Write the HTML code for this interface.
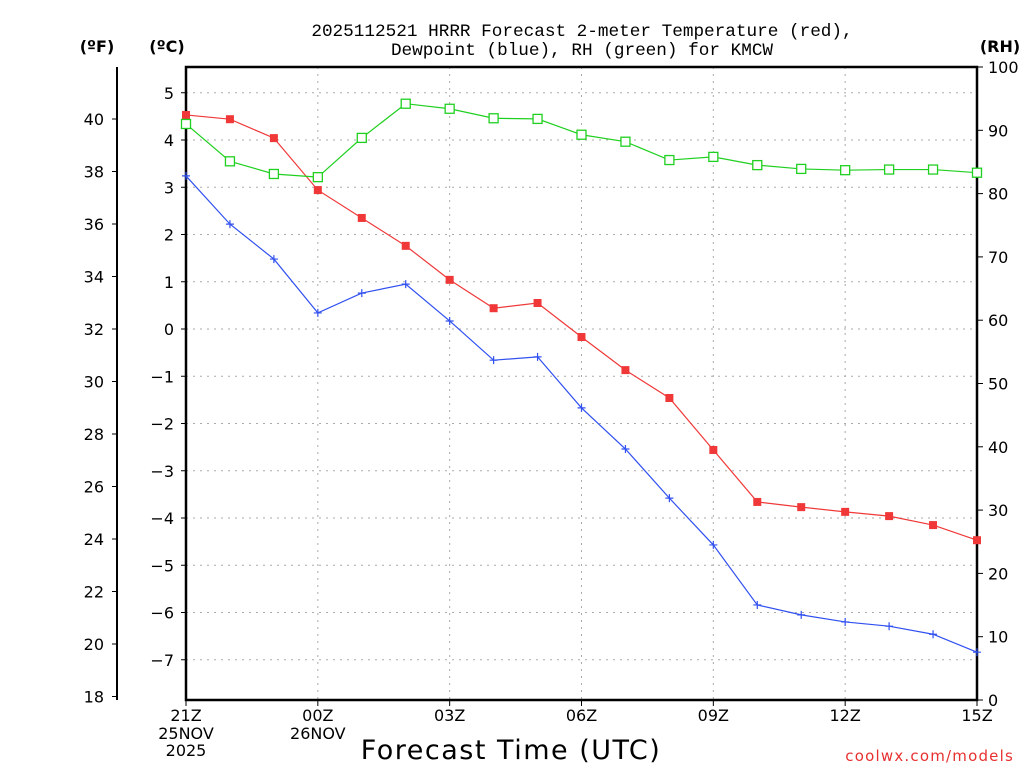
<!DOCTYPE html>
<html><head><meta charset="utf-8"><style>
body{margin:0;background:#fff;font-family:"DejaVu Sans","Liberation Sans",sans-serif;}
svg text{font-family:"DejaVu Sans","Liberation Sans",sans-serif;}
svg text.mono{font-family:"Liberation Mono","DejaVu Sans Mono",monospace;}
</style></head><body>
<svg id="chart" width="1024" height="768" xmlns="http://www.w3.org/2000/svg">
<rect width="1024" height="768" fill="#fff"/>
<g id="grid"></g>
<g id="axes"></g>
<g id="series"></g>
<text class="mono" x="582" y="36" text-anchor="middle" font-size="17.7" fill="#000">2025112521 HRRR Forecast 2-meter Temperature (red),</text>
<text class="mono" x="582" y="55" text-anchor="middle" font-size="17.7" fill="#000">Dewpoint (blue), RH (green) for KMCW</text>
<text x="97" y="52" text-anchor="middle" font-size="16" font-weight="bold">(ºF)</text>
<text x="167" y="52" text-anchor="middle" font-size="16" font-weight="bold">(ºC)</text>
<text x="1000" y="52" text-anchor="middle" font-size="16" font-weight="bold">(RH)</text>
<text x="511" y="759" text-anchor="middle" font-size="27" letter-spacing="1.5">Forecast Time (UTC)</text>
<text x="1014" y="761" text-anchor="end" font-size="15" fill="#e83030" letter-spacing="1.2">coolwx.com/models</text>
</svg>
<script>
const hours=[0,1,2,3,4,5,6,7,8,9,10,11,12,13,14,15,16,17,18];
const tempC=[4.53,4.44,4.04,2.94,2.35,1.76,1.04,0.44,0.55,-0.17,-0.87,-1.46,-2.56,-3.66,-3.77,-3.87,-3.96,-4.15,-4.47];
const dewC=[3.24,2.22,1.48,0.34,0.76,0.95,0.17,-0.66,-0.59,-1.67,-2.54,-3.58,-4.57,-5.84,-6.05,-6.20,-6.29,-6.46,-6.84];
const rh=[91.0,85.1,83.1,82.6,88.8,94.2,93.4,91.9,91.8,89.3,88.2,85.3,85.8,84.5,83.9,83.7,83.8,83.8,83.3];
const cTicks=[5,4,3,2,1,0,-1,-2,-3,-4,-5,-6,-7];
const fTicks=[40,38,36,34,32,30,28,26,24,22,20,18];
const rhTicks=[0,10,20,30,40,50,60,70,80,90,100];
const xTickHours=[0,3,6,9,12,15,18];
const xTickLabels=["21Z","00Z","03Z","06Z","09Z","12Z","15Z"];
const X0=186,X1=977,Y0=67,Y1=700;
const xS=h=>X0+h*(X1-X0)/18;
const yC=c=>329-c*47.25;
const yF=f=>yC((f-32)*5/9);
const yR=r=>Y1-r*(Y1-Y0)/100;
const NS="http://www.w3.org/2000/svg";
function mk(tag,attrs,parent){const e=document.createElementNS(NS,tag);for(const k in attrs)e.setAttribute(k,attrs[k]);parent.appendChild(e);return e;}
const grid=document.getElementById('grid'),axes=document.getElementById('axes'),ser=document.getElementById('series');
cTicks.forEach(c=>{const y=yC(c);
 const l=mk('line',{x1:X0,x2:X1,y1:y,y2:y,stroke:'#aaa','stroke-dasharray':'2,5'},grid);
 
 const t=mk('line',{x1:X0-5,x2:X0,y1:y,y2:y,stroke:'#000'},axes);
 
 const tx=mk('text',{x:X0-12,y:y+6,'text-anchor':'end','font-size':'16',fill:'#000'},axes);
 tx.textContent=(c<0?'\u2212'+(-c):c);
 });
xTickHours.forEach((h,i)=>{const x=xS(h);
 if(i>0&&i<xTickHours.length-1){const l=mk('line',{x1:x,x2:x,y1:Y0,y2:Y1,stroke:'#aaa','stroke-dasharray':'2,5'},grid);
 }
 const t=mk('line',{x1:x,x2:x,y1:Y1,y2:Y1+6,stroke:'#000'},axes);
 
 const tx=mk('text',{x:x,y:721,'text-anchor':'middle','font-size':'16'},axes);
 tx.textContent=xTickLabels[i];
 });
[[0,"25NOV",739],[0,"2025",756],[3,"26NOV",739]].forEach(d=>{
 const tx=mk('text',{x:xS(d[0]),y:d[2],'text-anchor':'middle','font-size':'16'},axes);tx.textContent=d[1];
 });
fTicks.forEach(f=>{const y=yF(f);
 const t=mk('line',{x1:112,x2:117,y1:y,y2:y,stroke:'#000'},axes);
 
 const tx=mk('text',{x:104,y:y+6,'text-anchor':'end','font-size':'16'},axes);tx.textContent=f;
 });
rhTicks.forEach(r=>{const y=yR(r);
 const t=mk('line',{x1:X1,x2:X1+6,y1:y,y2:y,stroke:'#000'},axes);
 
 const tx=mk('text',{x:988,y:y+6,'font-size':'16'},axes);tx.textContent=r;
 });
let a=mk('line',{x1:117,x2:117,y1:Y0,y2:Y1,stroke:'#000','stroke-width':2},axes);

a=mk('rect',{x:X0,y:Y0,width:X1-X0,height:Y1-Y0,fill:'none',stroke:'#000','stroke-width':2.5},axes);

function line(vals,yf,color,name){
 const p=mk('polyline',{points:vals.map((v,i)=>xS(hours[i])+','+yf(v)).join(' '),fill:'none',stroke:color,'stroke-width':1.2},ser);
 }
line(tempC,yC,'#f03838','temperature');line(dewC,yC,'#3050f0','dewpoint');line(rh,yR,'#20d020','rh');
tempC.forEach((v,i)=>{const m=mk('rect',{x:xS(hours[i])-4,y:yC(v)-4,width:8,height:8,fill:'#f03838'},ser);
 });
dewC.forEach((v,i)=>{const x=xS(hours[i]),y=yC(v);
 const m=mk('path',{d:`M${x-4},${y}H${x+4}M${x},${y-4}V${y+4}`,stroke:'#3050f0','stroke-width':1.2},ser);
 });
rh.forEach((v,i)=>{const m=mk('rect',{x:xS(hours[i])-4.5,y:yR(v)-4.5,width:9,height:9,fill:'#fff',stroke:'#20d020','stroke-width':1.3},ser);
 });
</script>
</body></html>
